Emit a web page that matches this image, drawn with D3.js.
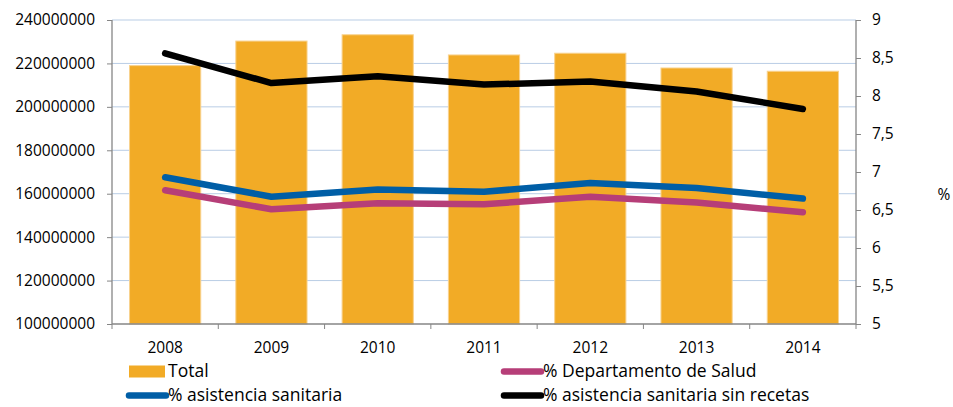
<!DOCTYPE html>
<html>
<head>
<meta charset="utf-8">
<script src="https://cdn.jsdelivr.net/npm/d3@7"></script>
<style>
  body { margin: 0; background: #fff; }
  svg text { font-family: "Open Sans", "Noto Sans", sans-serif; fill: #000; }
</style>
</head>
<body>
<div id="chart"></div>
<script>
const years = ["2008", "2009", "2010", "2011", "2012", "2013", "2014"];
const total = [219000000, 230300000, 233200000, 223900000, 224700000, 217900000, 216400000];
const pctDepartamento = [6.76, 6.51, 6.59, 6.575, 6.675, 6.6, 6.47];
const pctAsistencia = [6.93, 6.675, 6.77, 6.74, 6.855, 6.79, 6.65];
const pctSinRecetas = [8.56, 8.17, 8.26, 8.15, 8.19, 8.06, 7.83];
const leftTicks = [100000000, 120000000, 140000000, 160000000, 180000000, 200000000, 220000000, 240000000];
const rightTicks = [5, 5.5, 6, 6.5, 7, 7.5, 8, 8.5, 9];

const width = 953, height = 407;
const plot = { left: 112, right: 856, top: 20, bottom: 324 };

const svg = d3.select("#chart").append("svg")
  .attr("width", width)
  .attr("height", height);

const x = d3.scaleBand().domain(years).range([plot.left, plot.right]).paddingInner(0.33).paddingOuter(0.165);
const xBand = d3.scaleBand().domain(years).range([plot.left, plot.right]);
const yLeft = d3.scaleLinear().domain([100000000, 240000000]).range([plot.bottom, plot.top]);
const yRight = d3.scaleLinear().domain([5, 9]).range([plot.bottom, plot.top]);

// gridlines
svg.append("g")
  .selectAll("line")
  .data(leftTicks.slice(1))
  .join("line")
  .attr("x1", plot.left).attr("x2", plot.right)
  .attr("y1", d => yLeft(d)).attr("y2", d => yLeft(d))
  .attr("stroke", "#b9cde5").attr("stroke-width", 1);

// bars
svg.append("g")
  .selectAll("rect")
  .data(years.map((y, i) => ({ year: y, v: total[i] })))
  .join("rect")
  .attr("x", d => x(d.year))
  .attr("y", d => yLeft(d.v))
  .attr("width", x.bandwidth())
  .attr("height", d => yLeft(100000000) - yLeft(d.v))
  .attr("fill", "#f2ab26")
  .attr("stroke", "#f8d28e")
  .attr("stroke-width", 1);

// lines
const series = [
  { name: "% Departamento de Salud", values: pctDepartamento, color: "#b63e78" },
  { name: "% asistencia sanitaria", values: pctAsistencia, color: "#005ea6" },
  { name: "% asistencia sanitaria sin recetas", values: pctSinRecetas, color: "#000000" }
];

const line = d3.line()
  .x((d, i) => xBand(years[i]) + xBand.bandwidth() / 2)
  .y(d => yRight(d));

svg.append("g")
  .selectAll("path")
  .data(series)
  .join("path")
  .attr("d", d => line(d.values))
  .attr("fill", "none")
  .attr("stroke", d => d.color)
  .attr("stroke-width", 6.5)
  .attr("stroke-linejoin", "round")
  .attr("stroke-linecap", "round");

// axes
const axisColor = "#868686";

const leftAxis = svg.append("g")
  .attr("transform", `translate(${plot.left},0)`)
  .call(d3.axisLeft(yLeft).tickValues(leftTicks).tickFormat(d3.format("d")).tickSize(5).tickPadding(12));

const rightAxis = svg.append("g")
  .attr("transform", `translate(${plot.right},0)`)
  .call(d3.axisRight(yRight).tickValues(rightTicks).tickFormat(d => String(d).replace(".", ",")).tickSize(5).tickPadding(11));

const bottomAxis = svg.append("g")
  .attr("transform", `translate(0,${plot.bottom})`)
  .call(d3.axisBottom(xBand).tickSize(0).tickPadding(18));

bottomAxis.selectAll(".tick-sep")
  .data(d3.range(years.length + 1))
  .join("line")
  .attr("class", "tick-sep")
  .attr("x1", i => plot.left + i * xBand.step())
  .attr("x2", i => plot.left + i * xBand.step())
  .attr("y1", 0).attr("y2", 5)
  .attr("stroke", axisColor);

[leftAxis, rightAxis, bottomAxis].forEach(g => {
  g.selectAll(".domain").attr("stroke", axisColor).attr("stroke-width", 1.3);
  g.selectAll(".tick line").attr("stroke", axisColor);
  g.selectAll("text").style("font-size", "15.5px").attr("fill", "#000");
});
leftAxis.select(".domain").attr("d", `M0,${plot.top}V${plot.bottom}`);
rightAxis.select(".domain").attr("d", `M0,${plot.top}V${plot.bottom}`);
bottomAxis.select(".domain").attr("d", `M${plot.left},0H${plot.right}`);

// axis title
svg.append("text")
  .attr("x", 944).attr("y", 200)
  .attr("text-anchor", "middle")
  .style("font-size", "15.5px")
  .text("%");

// legend
const legendItems = [
  { name: "Total", type: "rect", color: "#f2ab26", x: 129, y: 371.5 },
  { name: series[0].name, type: "line", color: series[0].color, x: 502, y: 371.5 },
  { name: series[1].name, type: "line", color: series[1].color, x: 127, y: 395.5 },
  { name: series[2].name, type: "line", color: series[2].color, x: 502, y: 395.5 }
];

const legend = svg.append("g")
  .selectAll("g")
  .data(legendItems)
  .join("g")
  .attr("transform", d => `translate(${d.x},${d.y})`);

legend.filter(d => d.type === "rect")
  .append("rect")
  .attr("x", 0).attr("y", -6).attr("width", 36).attr("height", 12)
  .attr("fill", d => d.color);

legend.filter(d => d.type === "line")
  .append("line")
  .attr("x1", 2).attr("x2", 39).attr("y1", 0).attr("y2", 0)
  .attr("stroke", d => d.color)
  .attr("stroke-width", 6.5)
  .attr("stroke-linecap", "round");

legend.append("text")
  .attr("x", d => d.type === "rect" ? 39 : 41)
  .attr("y", 0)
  .attr("dy", "0.34em")
  .style("font-size", "17.5px")
  .text(d => d.name);
</script>
</body>
</html>
